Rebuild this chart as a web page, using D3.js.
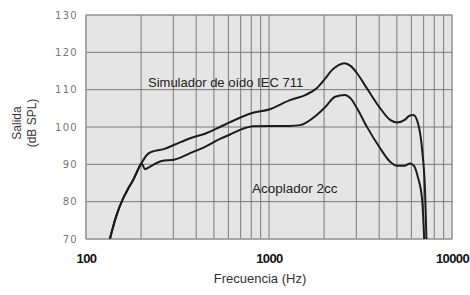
<!DOCTYPE html>
<html>
<head>
<meta charset="utf-8">
<script src="https://cdn.jsdelivr.net/npm/d3@7"></script>
<style>
	body { margin: 0; background: #fff; }
	svg { display: block; }
</style>
</head>
<body>
<div id="chart"></div>
<script>
const width = 470;
const height = 295;

// data
const xTicks = [100, 1000, 10000];
const yTicks = [70, 80, 90, 100, 110, 120, 130];

// simulador de oído IEC 711
const simFreq = [135, 146, 160, 170, 181, 192, 201, 218, 238, 263, 306, 371, 447, 540, 613, 818, 1000, 1300, 1600, 1823, 2000, 2214, 2400, 2588, 2800, 3026, 3423, 4000, 4589, 5000, 5519, 5855, 6150, 6500, 6870, 7130, 7250];
const simDb = [70, 76, 81, 83.5, 85.8, 88.5, 90.3, 92.8, 93.6, 94, 95.3, 97, 98.2, 100, 101.3, 103.8, 104.7, 107.2, 108.7, 110.4, 112.6, 115.3, 116.6, 117.1, 116.3, 114.4, 110.4, 105.4, 101.9, 101.2, 101.9, 103, 103.2, 101.2, 93.8, 82.3, 70];

// acoplador 2cc
const acoFreq = [135, 146, 160, 170, 181, 192, 201, 210, 224, 259, 306, 371, 447, 540, 613, 700, 818, 1000, 1300, 1477, 1823, 2000, 2300, 2588, 2800, 3026, 3423, 4000, 4589, 5000, 5500, 5900, 6200, 6500, 6870, 7050];
const acoDb = [70, 76, 81, 83.5, 85.8, 88.5, 90.3, 88.7, 89.4, 90.9, 91.3, 93, 94.7, 96.8, 98, 99.3, 100.2, 100.3, 100.3, 100.5, 103.2, 105, 108.1, 108.6, 107.6, 105, 100.1, 94.7, 90.7, 89.6, 89.6, 90.2, 89.6, 86.7, 80.4, 70];

const plot = { left: 86, right: 452, top: 15, bottom: 239 };

const x = d3.scaleLog().domain([100, 10000]).range([plot.left, plot.right]);
const y = d3.scaleLinear().domain([70, 130]).range([plot.bottom, plot.top]);

const svg = d3.select("#chart").append("svg")
	.attr("width", width)
	.attr("height", height)
	.style("font-family", "'Liberation Sans', Arial, sans-serif");

svg.append("rect")
	.attr("x", plot.left)
	.attr("y", plot.top)
	.attr("width", plot.right - plot.left)
	.attr("height", plot.bottom - plot.top)
	.attr("fill", "#e5e5e5");

// grid
const minorX = d3.range(100, 1000, 100).concat(d3.range(1000, 10001, 1000));
svg.append("g")
	.selectAll("line")
	.data(minorX)
	.join("line")
	.attr("x1", (d) => x(d))
	.attr("x2", (d) => x(d))
	.attr("y1", plot.top)
	.attr("y2", plot.bottom)
	.attr("stroke", "#7b7b7b")
	.attr("stroke-width", 1);

svg.append("g")
	.selectAll("line")
	.data(yTicks)
	.join("line")
	.attr("x1", plot.left)
	.attr("x2", plot.right)
	.attr("y1", (d) => y(d))
	.attr("y2", (d) => y(d))
	.attr("stroke", "#7b7b7b")
	.attr("stroke-width", 1);

svg.append("rect")
	.attr("x", plot.left)
	.attr("y", plot.top)
	.attr("width", plot.right - plot.left)
	.attr("height", plot.bottom - plot.top)
	.attr("fill", "none")
	.attr("stroke", "#9a9a9a");

// curves
svg.append("clipPath").attr("id", "clip")
	.append("rect")
	.attr("x", plot.left)
	.attr("y", plot.top)
	.attr("width", plot.right - plot.left)
	.attr("height", plot.bottom - plot.top);

const line = d3.line()
	.x((d) => x(d[0]))
	.y((d) => y(d[1]))
	.curve(d3.curveMonotoneX);

const series = [d3.zip(simFreq, simDb), d3.zip(acoFreq, acoDb)];
svg.append("g")
	.attr("clip-path", "url(#clip)")
	.selectAll("path")
	.data(series)
	.join("path")
	.attr("d", line)
	.attr("fill", "none")
	.attr("stroke", "#1c1c1c")
	.attr("stroke-width", 2);

// axes
const xAxis = d3.axisBottom(x).tickValues(xTicks).tickFormat(d3.format("d")).tickSize(0).tickPadding(0);
svg.append("g")
	.attr("transform", `translate(0,${plot.bottom + 19})`)
	.call(xAxis)
	.call((g) => g.select(".domain").remove())
	.selectAll("text")
	.attr("dy", "0.35em")
	.attr("font-size", 13)
	.attr("font-weight", "bold")
	.attr("letter-spacing", -0.6)
	.attr("fill", "#111")
	.attr("font-family", "'Liberation Sans', Arial, sans-serif");

const yAxis = d3.axisLeft(y).tickValues(yTicks).tickSize(0).tickPadding(0);
svg.append("g")
	.attr("transform", `translate(${plot.left - 8},0)`)
	.call(yAxis)
	.call((g) => g.select(".domain").remove())
	.selectAll("text")
	.attr("font-size", 10)
	.attr("letter-spacing", 1.3)
	.attr("fill", "#777")
	.attr("font-family", "'DejaVu Sans', sans-serif");

// labels
svg.append("text")
	.attr("x", 148)
	.attr("y", 87)
	.attr("font-size", 13)
	.attr("fill", "#222")
	.text("Simulador de oído IEC 711");

svg.append("text")
	.attr("x", 252)
	.attr("y", 193)
	.attr("font-size", 13.5)
	.attr("fill", "#222")
	.text("Acoplador 2cc");

svg.append("text")
	.attr("x", 260)
	.attr("y", 283)
	.attr("text-anchor", "middle")
	.attr("font-size", 13)
	.attr("fill", "#333")
	.text("Frecuencia (Hz)");

const yTitle = svg.append("text")
	.attr("transform", "translate(25,123) rotate(-90)")
	.attr("text-anchor", "middle")
	.attr("font-size", 12)
	.attr("fill", "#333");
yTitle.append("tspan").attr("x", 0).attr("dy", "-0.3em").text("Salida");
yTitle.append("tspan").attr("x", 0).attr("dy", "1.2em").text("(dB SPL)");
</script>
</body>
</html>
